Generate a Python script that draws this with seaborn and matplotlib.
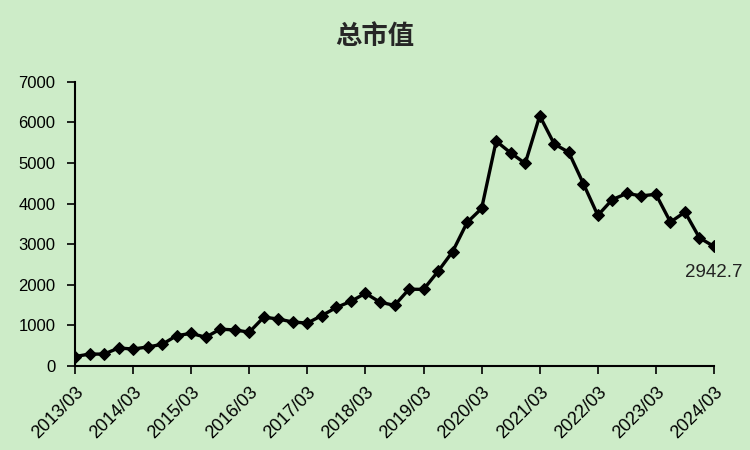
import pandas as pd
import seaborn as sns
import matplotlib.pyplot as plt

# quarterly total market value, 2013/03 .. 2024/03
values = [230, 290, 290, 440, 415, 465, 530, 745, 800, 705,
          905, 885, 830, 1200, 1155, 1080, 1055, 1240, 1440, 1590,
          1790, 1570, 1490, 1890, 1885, 2330, 2815, 3535, 3880, 5540,
          5250, 4990, 6165, 5470, 5265, 4495, 3710, 4100, 4250, 4190,
          4230, 3545, 3790, 3155, 2942.7]
year_labels = ['2013/03', '2014/03', '2015/03', '2016/03', '2017/03', '2018/03',
               '2019/03', '2020/03', '2021/03', '2022/03', '2023/03', '2024/03']

bg = '#cdecc8'
sns.set_style('ticks')
plt.rcParams['font.family'] = ['Liberation Sans', 'Noto Sans CJK SC', 'DejaVu Sans']

df = pd.DataFrame({'q': range(len(values)), 'v': values})

fig = plt.figure(figsize=(7.5, 4.5), dpi=100, facecolor=bg)
ax = fig.add_axes([0.1, 0.187, 0.852, 0.631])
ax.set_facecolor(bg)

sns.lineplot(data=df, x='q', y='v', ax=ax, color='black', linewidth=2.4,
             marker='D', markersize=6.5, markeredgecolor='black')

ax.set_xlim(0, len(values) - 1)
ax.set_ylim(0, 7000)
ax.set_yticks(range(0, 7001, 1000))
ax.set_xticks(range(0, len(values), 4))
ax.set_xticklabels(year_labels, rotation=45, ha='right', rotation_mode='anchor')
ax.tick_params(axis='both', colors='black', width=1.2, length=6)
ax.tick_params(axis='x', labelsize=13, pad=7)
ax.tick_params(axis='y', labelsize=12, pad=8)
ax.set_xlabel('')
ax.set_ylabel('')
for s in ['top', 'right']:
    ax.spines[s].set_visible(False)
for s in ['left', 'bottom']:
    ax.spines[s].set_linewidth(1.5)
    ax.spines[s].set_color('black')

ax.annotate(f'{values[-1]}', xy=(len(values) - 1, values[-1]), xytext=(0, -26),
            textcoords='offset pixels', ha='center', va='center', fontsize=13.5,
            color='#222222', annotation_clip=False)

fig.text(0.5, 0.918, '总市值', ha='center', va='center', fontsize=19,
         fontweight='bold', family=['Noto Sans CJK SC', 'DejaVu Sans'])

fig.savefig('out.png', dpi=100, facecolor=bg)
